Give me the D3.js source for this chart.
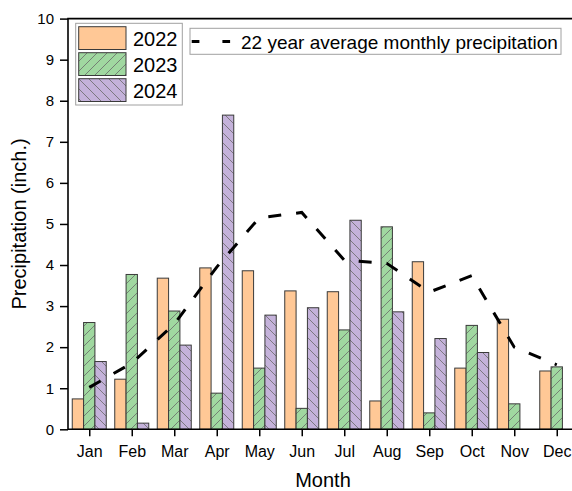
<!DOCTYPE html>
<html>
<head>
<meta charset="utf-8">
<script src="https://cdn.jsdelivr.net/npm/d3@7"></script>
<style>
  html, body { margin: 0; padding: 0; background: #fff; }
  svg { display: block; font-family: "Liberation Sans", Arial, sans-serif; }
</style>
</head>
<body>
<svg id="chart" width="572" height="491"></svg>
<script>
// Monthly precipitation (inches)
const months = ["Jan","Feb","Mar","Apr","May","Jun","Jul","Aug","Sep","Oct","Nov","Dec"];
const years = ["2022","2023","2024"];
const precip2022 = [0.74, 1.22, 3.68, 3.93, 3.86, 3.37, 3.35, 0.69, 4.08, 1.49, 2.68, 1.42];
const precip2023 = [2.60, 3.77, 2.88, 0.88, 1.49, 0.51, 2.42, 4.93, 0.40, 2.53, 0.62, 1.52];
const precip2024 = [1.65, 0.15, 2.05, 7.65, 2.78, 2.96, 5.09, 2.86, 2.21, 1.87, null, null];
const avg22yr = [1.02, 1.61, 2.56, 3.95, 5.15, 5.28, 4.12, 4.04, 3.34, 3.74, 2.00, 1.57];
const yTicks = [0, 1, 2, 3, 4, 5, 6, 7, 8, 9, 10];
const avgLabel = "22 year average monthly precipitation";

const seriesList = [precip2022, precip2023, precip2024];
const fills = ["#FFC896", "#A0D8A0", "#C4B2DA"];

const svg = d3.select("#chart");
const margin = { left: 68, top: 18.6, right: 578, bottom: 429.3 };

// Month n sits at n on a linear axis running from 0.5 to 12.5
const x = d3.scaleLinear().domain([0.5, 12.5]).range([margin.left, margin.right]);
const y = d3.scaleLinear().domain([0, 10]).range([margin.bottom, margin.top]);
const step = x(2) - x(1);
const groupW = step * 0.8;
const barW = groupW / 3;

// Hatch patterns for 2023 (/) and 2024 (\)
const defs = svg.append("defs");
function hatch(id, bg, dir) {
  const p = defs.append("pattern").attr("id", id)
    .attr("patternUnits", "userSpaceOnUse")
    .attr("width", 10).attr("height", 10);
  p.append("rect").attr("width", 10).attr("height", 10).attr("fill", bg);
  const pathD = dir > 0
    ? "M-2,2 L2,-2 M0,10 L10,0 M8,12 L12,8"
    : "M-2,8 L2,12 M0,0 L10,10 M8,-2 L12,2";
  p.append("path").attr("d", pathD).attr("stroke", "#6a6a6a").attr("stroke-width", 0.8);
}
hatch("hatch2023", fills[1], 1);
hatch("hatch2024", fills[2], -1);
const fillRefs = [fills[0], "url(#hatch2023)", "url(#hatch2024)"];

// Bars
seriesList.forEach((vals, si) => {
  svg.append("g").selectAll("rect")
    .data(vals.map((v, i) => ({ v, m: i + 1 })).filter(d => d.v != null))
    .join("rect")
    .attr("x", d => x(d.m) - groupW / 2 + si * barW)
    .attr("y", d => y(d.v))
    .attr("width", barW)
    .attr("height", d => y(0) - y(d.v))
    .attr("fill", fillRefs[si])
    .attr("stroke", "#3a3a3a")
    .attr("stroke-width", 1);
});

// 22-year average line
const line = d3.line().x((d, i) => x(i + 1)).y(d => y(d));
svg.append("path")
  .datum(avg22yr)
  .attr("d", line)
  .attr("fill", "none")
  .attr("stroke", "#000")
  .attr("stroke-width", 3)
  .attr("stroke-dasharray", "13,15");

// Axes
const yAxis = d3.axisLeft(y).tickValues(yTicks).tickSize(8).tickPadding(6).tickFormat(d3.format("d"));
const gy = svg.append("g").attr("transform", `translate(${margin.left},0)`).call(yAxis);
const xAxis = d3.axisBottom(x).tickValues(d3.range(1, 13)).tickSize(7).tickPadding(9)
  .tickFormat(d => months[d - 1]);
const gx = svg.append("g").attr("transform", `translate(0,${margin.bottom})`).call(xAxis);
[gx, gy].forEach(g => {
  g.select(".domain").remove();
  g.selectAll(".tick line").attr("stroke", "#000").attr("stroke-width", 1.5);
  g.selectAll(".tick text").attr("fill", "#000")
    .style("font-family", "'Liberation Sans', Arial, sans-serif");
});
gy.selectAll(".tick text").style("font-size", "15px");
gx.selectAll(".tick text").style("font-size", "16px");

// Frame: left, top and bottom edges
svg.append("path")
  .attr("d", `M${margin.right},${margin.top} H${margin.left} V${margin.bottom} H${margin.right}`)
  .attr("fill", "none").attr("stroke", "#000").attr("stroke-width", 1.6);

// Axis titles
svg.append("text")
  .attr("x", x(6.5)).attr("y", 487)
  .attr("text-anchor", "middle").style("font-size", "20px")
  .text("Month");
svg.append("text")
  .attr("transform", `translate(26,${(margin.top + margin.bottom) / 2}) rotate(-90)`)
  .attr("text-anchor", "middle").style("font-size", "20px")
  .text("Precipitation (inch.)");

// Legend for yearly bars
const lg = svg.append("g");
lg.append("rect").attr("x", 75.7).attr("y", 23.3).attr("width", 106.6).attr("height", 81.7)
  .attr("fill", "#fff").attr("stroke", "#a0a0a0").attr("stroke-width", 1);
years.forEach((yr, i) => {
  const top = 26.7 + i * 26;
  lg.append("rect").attr("x", 78.7).attr("y", top).attr("width", 47.3).attr("height", 22.8)
    .attr("fill", fillRefs[i]).attr("stroke", "#3a3a3a").attr("stroke-width", 1);
  lg.append("text").attr("x", 133).attr("y", top + 19).style("font-size", "20px").text(yr);
});

// Legend for the average line
const la = svg.append("g");
la.append("rect").attr("x", 190).attr("y", 28.3).attr("width", 371).attr("height", 26)
  .attr("fill", "#fff").attr("stroke", "#a0a0a0").attr("stroke-width", 1);
[[191.7, 199.4], [222.4, 230.1]].forEach(([a, b]) => {
  la.append("line").attr("x1", a).attr("x2", b).attr("y1", 41.5).attr("y2", 41.5)
    .attr("stroke", "#000").attr("stroke-width", 3);
});
la.append("text").attr("x", 241).attr("y", 48.5).style("font-size", "19px").text(avgLabel);
</script>
</body>
</html>
